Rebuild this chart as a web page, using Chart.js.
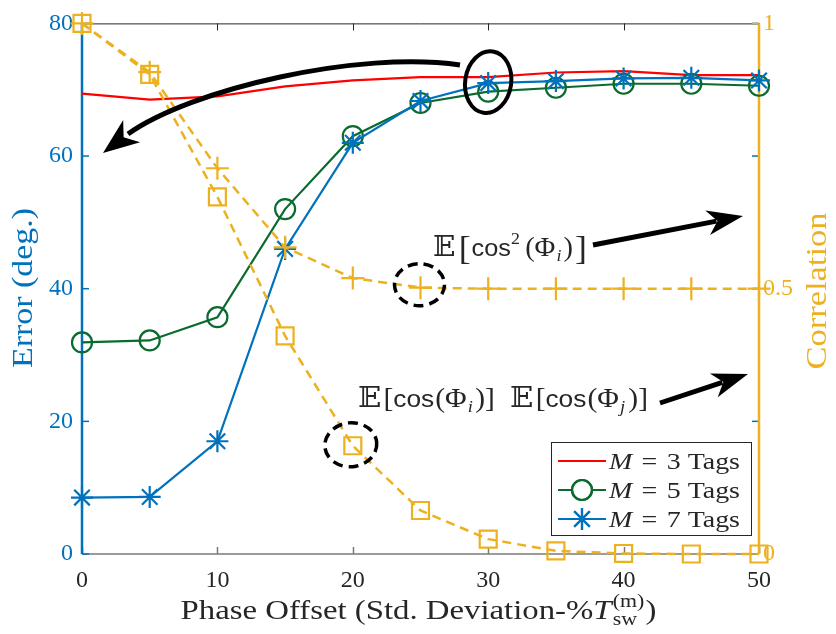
<!DOCTYPE html>
<html>
<head>
<meta charset="utf-8">
<script src="https://cdn.jsdelivr.net/npm/chart.js@4/dist/chart.umd.min.js"></script>
<style>
  html, body { margin: 0; padding: 0; background: #fff; }
  #wrap { width: 836px; height: 634px; position: relative; }
</style>
</head>
<body>
<div id="wrap"><canvas id="c" width="836" height="634"></canvas></div>
<script>
// Phase offset (std. deviation, % of switching period)
const phaseOffset = [0, 5, 10, 15, 20, 25, 30, 35, 40, 45, 50];

// Estimation error in degrees (left axis)
const errM3 = [69.4, 68.5, 69.0, 70.5, 71.4, 71.9, 71.9, 72.6, 72.8, 72.2, 72.2];
const errM5 = [31.9, 32.2, 35.7, 52.0, 63.0, 68.0, 69.7, 70.3, 70.9, 70.9, 70.6];
const errM7 = [8.5, 8.6, 17.0, 46.0, 62.0, 68.3, 71.0, 71.3, 71.7, 71.8, 71.4];

// Correlation terms (right axis)
const corrCos2   = [1.0, 0.908, 0.727, 0.578, 0.52, 0.502, 0.5, 0.5, 0.5, 0.5, 0.5];
const corrCosCos = [1.0, 0.904, 0.673, 0.411, 0.204, 0.082, 0.028, 0.006, 0.001, 0.0, 0.0];

const xTicks = [0, 10, 20, 30, 40, 50];
const errTicks = [0, 20, 40, 60, 80];
const corrTicks = [0, 0.5, 1];

const seriesLabels = ['M = 3 Tags', 'M = 5 Tags', 'M = 7 Tags'];

const BLUE = '#0072BD', ORANGE = '#EDB120', RED = '#FF0000', GREEN = '#0B6B2F', DARK = '#262626';
const SERIF = '"Liberation Serif", "DejaVu Serif", serif';
const SANS = '"Liberation Sans", "DejaVu Sans", sans-serif';

const pts = ys => phaseOffset.map((x, i) => ({ x, y: ys[i] }));

// Draws text runs on a shared baseline, optionally fitted to a given width.
function drawRuns(ctx, runs, x, y, targetWidth, align) {
  const widths = runs.map(r => { ctx.font = r.font; return ctx.measureText(r.t).width; });
  const pos = [];
  let cx = 0, lastStart = 0, lastW = 0;
  runs.forEach((r, i) => {
    if (r.stack) {
      pos.push(lastStart);
      cx = Math.max(lastStart + lastW, lastStart + widths[i]) + (r.gap || 0);
      lastW = Math.max(lastW, widths[i]);
    } else {
      cx += (r.pre || 0);
      pos.push(cx);
      lastStart = cx; lastW = widths[i];
      cx += widths[i] + (r.gap || 0);
    }
  });
  const total = cx;
  const sx = targetWidth ? targetWidth / total : 1;
  ctx.save();
  ctx.translate(x, y);
  ctx.scale(sx, 1);
  if (align === 'center') ctx.translate(-total / 2, 0);
  ctx.textBaseline = 'alphabetic';
  ctx.textAlign = 'left';
  runs.forEach((r, i) => {
    ctx.font = r.font;
    ctx.fillStyle = r.color || DARK;
    ctx.fillText(r.t, pos[i], r.dy || 0);
  });
  ctx.restore();
}

function arrowHead(ctx, tx, ty, dx, dy, len, wid) {
  const n = Math.hypot(dx, dy); dx /= n; dy /= n;
  const px = -dy, py = dx;
  const bx = tx - dx * len, by = ty - dy * len;
  ctx.beginPath();
  ctx.moveTo(tx, ty);
  ctx.lineTo(bx + px * wid / 2, by + py * wid / 2);
  ctx.lineTo(tx - dx * len * 0.72, ty - dy * len * 0.72);
  ctx.lineTo(bx - px * wid / 2, by - py * wid / 2);
  ctx.closePath();
  ctx.fill();
}

function straightArrow(ctx, x0, y0, x1, y1) {
  const dx = x1 - x0, dy = y1 - y0, n = Math.hypot(dx, dy);
  const len = 36, wid = 25;
  ctx.beginPath();
  ctx.moveTo(x0, y0);
  ctx.lineTo(x1 - dx / n * len * 0.75, y1 - dy / n * len * 0.75);
  ctx.stroke();
  arrowHead(ctx, x1, y1, dx, dy, len, wid);
}

function ellipse(ctx, cx, cy, rx, ry, rot, dash, lw) {
  ctx.save();
  ctx.setLineDash(dash);
  ctx.lineWidth = lw;
  ctx.beginPath();
  ctx.ellipse(cx, cy, rx, ry, rot, 0, Math.PI * 2);
  ctx.stroke();
  ctx.restore();
}

// Axis lines, inward ticks and the top frame edge
const framePlugin = {
  id: 'frame',
  beforeDatasetsDraw(chart) {
    const { ctx, chartArea: a, scales } = chart;
    const T = 7;
    ctx.save();
    ctx.strokeStyle = DARK; ctx.lineWidth = 1;
    ctx.beginPath(); ctx.moveTo(a.left, a.top + 0.5); ctx.lineTo(a.right, a.top + 0.5); ctx.stroke();
    ctx.strokeStyle = '#7a7a7a'; ctx.lineWidth = 1.5;
    ctx.beginPath(); ctx.moveTo(a.left, a.bottom); ctx.lineTo(a.right, a.bottom); ctx.stroke();
    xTicks.forEach(v => {
      const px = Math.round(scales.x.getPixelForValue(v)) + 0.5;
      ctx.strokeStyle = '#7a7a7a'; ctx.lineWidth = 1.5;
      ctx.beginPath(); ctx.moveTo(px, a.bottom); ctx.lineTo(px, a.bottom - T); ctx.stroke();
      ctx.strokeStyle = DARK; ctx.lineWidth = 1;
      ctx.beginPath(); ctx.moveTo(px, a.top); ctx.lineTo(px, a.top + T); ctx.stroke();
    });
    // left-axis ticks, also mirrored on the right edge
    ctx.strokeStyle = BLUE; ctx.lineWidth = 1.5;
    errTicks.forEach(v => {
      const py = scales.y.getPixelForValue(v);
      ctx.beginPath(); ctx.moveTo(a.right, py); ctx.lineTo(a.right - T, py); ctx.stroke();
      ctx.beginPath(); ctx.moveTo(a.left, py); ctx.lineTo(a.left + T, py); ctx.stroke();
    });
    ctx.lineWidth = 2.5;
    ctx.beginPath(); ctx.moveTo(a.left, a.top); ctx.lineTo(a.left, a.bottom); ctx.stroke();
    ctx.strokeStyle = ORANGE; ctx.lineWidth = 1.5;
    corrTicks.forEach(v => {
      const py = scales.y1.getPixelForValue(v);
      ctx.beginPath(); ctx.moveTo(a.right, py); ctx.lineTo(a.right - T, py); ctx.stroke();
    });
    ctx.lineWidth = 2.5;
    ctx.beginPath(); ctx.moveTo(a.right, a.top); ctx.lineTo(a.right, a.bottom); ctx.stroke();
    ctx.restore();
  }
};

// Axis titles, callouts with their formulas, and the legend box
const overlayPlugin = {
  id: 'overlay',
  afterDatasetsDraw(chart) {
    const { ctx, chartArea: a, scales } = chart;
    const X = v => scales.x.getPixelForValue(v);
    const YL = v => scales.y.getPixelForValue(v);
    const YR = v => scales.y1.getPixelForValue(v);
    ctx.save();

    const f27 = '27px ' + SERIF, f27i = 'italic 27px ' + SERIF, f18 = '18px ' + SERIF;
    drawRuns(ctx, [
      { t: 'Phase Offset (Std. Deviation-%', font: f27 },
      { t: 'T', font: f27i, gap: 1 },
      { t: 'sw', font: f18, dy: 6 },
      { t: '(m)', font: f18, dy: -12, stack: true, gap: 1 },
      { t: ')', font: f27 }
    ], (a.left + a.right) / 2 - 2, 619, 476, 'center');

    ctx.save();
    ctx.translate(32, 288);
    ctx.rotate(-Math.PI / 2);
    drawRuns(ctx, [{ t: 'Error (deg.)', font: '29px ' + SERIF, color: BLUE }], 0, 0, 160, 'center');
    ctx.restore();

    ctx.save();
    ctx.translate(826, 291);
    ctx.rotate(-Math.PI / 2);
    drawRuns(ctx, [{ t: 'Correlation', font: '29px ' + SERIF, color: ORANGE }], 0, 0, 157, 'center');
    ctx.restore();

    ctx.strokeStyle = '#000'; ctx.fillStyle = '#000';
    // curved arrow from the high-error plateau toward the left axis
    ctx.lineWidth = 5;
    ctx.beginPath();
    ctx.moveTo(460, 65);
    ctx.bezierCurveTo(360, 50, 191, 89, 128, 134);
    ctx.stroke();
    arrowHead(ctx, 103, 153, -25, 19, 36, 28);

    ellipse(ctx, X(30), YL(71.0) - 1, 23, 31, 0.15, [], 4);
    ellipse(ctx, X(25) - 1, YR(0.5) - 4, 25, 21, 0, [10, 6], 3.5);
    ellipse(ctx, X(20) - 2, YR(0.204) - 1, 26, 22, -0.1, [10, 6], 3.5);

    ctx.lineWidth = 5;
    straightArrow(ctx, 593, 245, 743, 216);
    straightArrow(ctx, 660, 403, 748, 374);

    const ex = '28px "DejaVu Serif", ' + SERIF;
    const fs = '24px ' + SANS;
    const fr = '27px ' + SERIF;
    const fb = '34px ' + SERIF;
    const fsub = 'italic 17px ' + SERIF;
    drawRuns(ctx, [
      { t: '\u{1D53C}', font: ex, gap: 3 },
      { t: '[', font: fb, gap: 1, dy: 3 },
      { t: 'cos', font: fs },
      { t: '2', font: '17px ' + SERIF, dy: -12, gap: 5 },
      { t: '(', font: fr },
      { t: '\u03A6', font: fr, gap: 1 },
      { t: 'i', font: fsub, dy: 5, gap: 2 },
      { t: ')', font: fr, gap: 2 },
      { t: ']', font: fb, dy: 3 }
    ], 433, 256, 154);

    drawRuns(ctx, [
      { t: '\u{1D53C}', font: ex, gap: 2 },
      { t: '[', font: fr },
      { t: 'cos', font: fs, gap: 1 },
      { t: '(', font: fr },
      { t: '\u03A6', font: fr, gap: 1 },
      { t: 'i', font: fsub, dy: 5, gap: 2 },
      { t: ')', font: fr },
      { t: ']', font: fr, gap: 14 },
      { t: '\u{1D53C}', font: ex, gap: 2 },
      { t: '[', font: fr },
      { t: 'cos', font: fs, gap: 1 },
      { t: '(', font: fr },
      { t: '\u03A6', font: fr, gap: 1 },
      { t: 'j', font: fsub, dy: 5, gap: 3 },
      { t: ')', font: fr },
      { t: ']', font: fr }
    ], 358, 407, 290);

    ctx.restore();
  },
  afterDraw(chart) {
    const { ctx } = chart;
    const bx = 551, by = 442, bw = 200, bh = 93;
    ctx.save();
    ctx.fillStyle = '#fff';
    ctx.fillRect(bx, by, bw, bh);
    ctx.strokeStyle = DARK; ctx.lineWidth = 1;
    ctx.strokeRect(bx + 0.5, by + 0.5, bw, bh);
    const rows = [461, 490, 519];
    const ds = chart.data.datasets;
    [0, 1, 2].forEach((k, i) => {
      const d = ds[k];
      const y = rows[i];
      ctx.strokeStyle = d.borderColor;
      ctx.lineWidth = d.borderWidth;
      ctx.setLineDash([]);
      ctx.beginPath(); ctx.moveTo(558, y); ctx.lineTo(606, y); ctx.stroke();
      if (d.pointStyle && d.pointRadius > 0) {
        Chart.helpers.drawPoint(ctx, {
          pointStyle: d.pointStyle, radius: d.pointRadius, borderWidth: d.pointBorderWidth, rotation: 0
        }, 582, y);
        ctx.stroke();
      }
      const parts = seriesLabels[k].split(' = ');
      drawRuns(ctx, [
        { t: parts[0], font: 'italic 24px ' + SERIF, gap: 8 },
        { t: '=', font: '24px ' + SERIF, gap: 8 },
        { t: parts[1], font: '24px ' + SERIF }
      ], 609, y + 8, 131);
    });
    ctx.restore();
  }
};

const tickFont = { family: SERIF, size: 24 };

new Chart(document.getElementById('c'), {
  type: 'line',
  data: {
    datasets: [
      { label: seriesLabels[0], data: pts(errM3), yAxisID: 'y', borderColor: RED, backgroundColor: RED,
        borderWidth: 2.2, pointRadius: 0, pointStyle: false, order: 3 },
      { label: seriesLabels[1], data: pts(errM5), yAxisID: 'y', borderColor: GREEN, backgroundColor: 'rgba(0,0,0,0)',
        borderWidth: 2.2, pointStyle: 'circle', pointRadius: 10, pointBorderWidth: 2.2, order: 2 },
      { label: seriesLabels[2], data: pts(errM7), yAxisID: 'y', borderColor: BLUE, backgroundColor: 'rgba(0,0,0,0)',
        borderWidth: 2.2, pointStyle: 'star', pointRadius: 11, pointBorderWidth: 2.2, order: 1 },
      { label: 'E[cos(Phi_i)] E[cos(Phi_j)]', data: pts(corrCosCos), yAxisID: 'y1', borderColor: ORANGE,
        backgroundColor: 'rgba(0,0,0,0)', borderWidth: 2.5, borderDash: [9, 6], pointStyle: 'rect',
        pointRadius: 12, pointBorderWidth: 2.2, order: 0 },
      { label: 'E[cos^2(Phi_i)]', data: pts(corrCos2), yAxisID: 'y1', borderColor: ORANGE,
        backgroundColor: 'rgba(0,0,0,0)', borderWidth: 2.5, borderDash: [9, 6], pointStyle: 'cross',
        pointRadius: 11.5, pointBorderWidth: 2.2, order: 0 }
    ].map(d => Object.assign({ tension: 0, clip: false, pointHoverRadius: d.pointRadius,
        pointBorderColor: d.borderColor, pointBackgroundColor: 'rgba(0,0,0,0)' }, d))
  },
  options: {
    responsive: false,
    animation: false,
    devicePixelRatio: 1,
    layout: { padding: { top: 20, left: 0, right: 0, bottom: 0 } },
    plugins: { legend: { display: false }, tooltip: { enabled: false } },
    scales: {
      x: {
        type: 'linear', min: 0, max: 50,
        afterFit: s => { s.height = 80; },
        afterBuildTicks: s => { s.ticks = xTicks.map(v => ({ value: v })); },
        grid: { display: false, drawTicks: false },
        border: { display: false },
        ticks: { color: DARK, font: tickFont, padding: 12, maxRotation: 0 }
      },
      y: {
        type: 'linear', position: 'left', min: 0, max: 80,
        afterFit: s => { s.width = 82; },
        afterBuildTicks: s => { s.ticks = errTicks.map(v => ({ value: v })); },
        grid: { display: false, drawTicks: false },
        border: { display: false },
        ticks: { color: BLUE, font: tickFont, padding: 9 }
      },
      y1: {
        type: 'linear', position: 'right', min: 0, max: 1,
        afterFit: s => { s.width = 77; },
        afterBuildTicks: s => { s.ticks = corrTicks.map(v => ({ value: v })); },
        grid: { display: false, drawTicks: false },
        border: { display: false },
        ticks: { color: ORANGE, font: tickFont, padding: 4, callback: v => String(v) }
      }
    }
  },
  plugins: [framePlugin, overlayPlugin]
});
</script>
</body>
</html>
